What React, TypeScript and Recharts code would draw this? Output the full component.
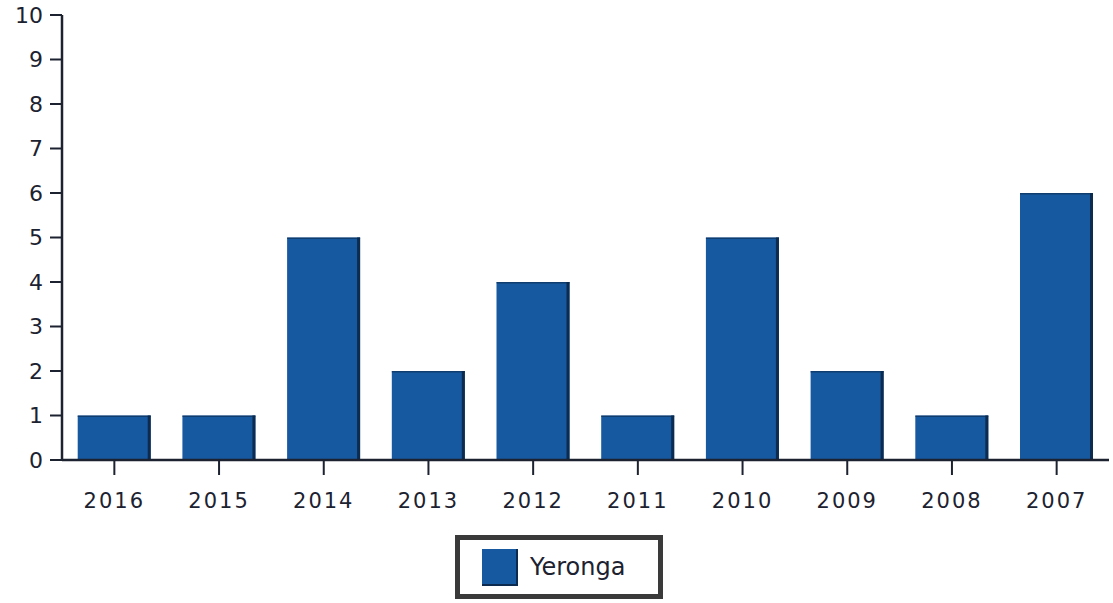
import { BarChart, Bar, XAxis, YAxis } from "recharts";

const years = ["2016", "2015", "2014", "2013", "2012", "2011", "2010", "2009", "2008", "2007"];
const yeronga = [1, 1, 5, 2, 4, 1, 5, 2, 1, 6];
const yTicks = [0, 1, 2, 3, 4, 5, 6, 7, 8, 9, 10];

const BAR_COLOR = "#1759a1";
const EDGE_COLOR = "#0c2b4e";
const AXIS_COLOR = "#1c2230";
const FONT = "'DejaVu Sans', Verdana, sans-serif";

const data = years.map((year, i) => ({ year, Yeronga: yeronga[i] }));

// bar with the darker right edge seen in the original
function ShadedBar(props: any) {
  const { x, y, width, height } = props;
  if (!height || height <= 0) return null;
  return (
    <g>
      <rect x={x} y={y} width={width} height={height} fill={BAR_COLOR} />
      <rect x={x + width - 3} y={y} width={3} height={height} fill={EDGE_COLOR} />
      <rect x={x} y={y} width={width} height={1.5} fill={EDGE_COLOR} opacity={0.6} />
    </g>
  );
}

function LegendBox() {
  return (
    <div
      style={{
        position: "absolute",
        left: 455,
        top: 535,
        boxSizing: "border-box",
        width: 208,
        height: 64,
        border: "5px solid #3a3a3a",
        background: "#fff",
        display: "flex",
        alignItems: "center",
        paddingLeft: 22,
        fontFamily: FONT,
      }}
    >
      <div style={{ width: 36, height: 37, background: BAR_COLOR, borderRight: `2px solid ${EDGE_COLOR}`, borderBottom: `2px solid ${EDGE_COLOR}`, boxSizing: "border-box" }} />
      <span style={{ marginLeft: 12, fontSize: 24, color: "#1c2230" }}>Yeronga</span>
    </div>
  );
}

export default function App() {
  return (
    <div style={{ position: "absolute", left: 0, top: 0, width: 1113, height: 603, background: "#fff" }}>
      <BarChart
        width={1113}
        height={603}
        data={data}
        margin={{ top: 15, right: 4, bottom: 83, left: 10 }}
        barCategoryGap="15%"
      >
        <XAxis
          dataKey="year"
          height={60}
          axisLine={{ stroke: AXIS_COLOR, strokeWidth: 2.5 }}
          tickLine={{ stroke: AXIS_COLOR, strokeWidth: 2 }}
          tickSize={15}
          tickMargin={18}
          tick={{ fill: "#1c2230", fontSize: 21, fontFamily: FONT, letterSpacing: 2 }}
        />
        <YAxis
          domain={[0, 10]}
          ticks={yTicks}
          width={52}
          interval={0}
          axisLine={{ stroke: AXIS_COLOR, strokeWidth: 2.5 }}
          tickLine={{ stroke: AXIS_COLOR, strokeWidth: 2 }}
          tickSize={12}
          tickMargin={7}
          tick={{ fill: "#1c2230", fontSize: 22, fontFamily: FONT }}
        />
        <YAxis
          yAxisId="right"
          orientation="right"
          width={0}
          domain={[0, 10]}
          tick={false}
          tickLine={false}
          axisLine={{ stroke: AXIS_COLOR, strokeWidth: 2.5 }}
        />
        <Bar dataKey="Yeronga" fill={BAR_COLOR} shape={ShadedBar} isAnimationActive={false} />
      </BarChart>
      <LegendBox />
    </div>
  );
}
